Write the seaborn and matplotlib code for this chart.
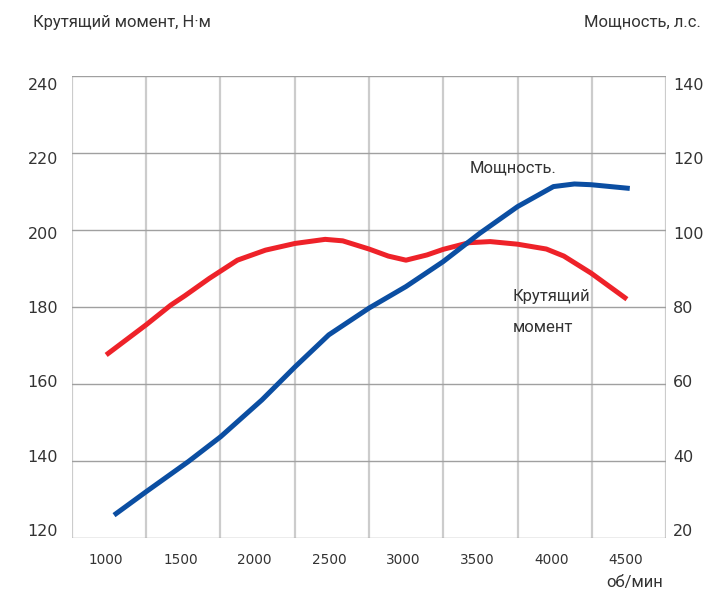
import matplotlib
matplotlib.use("Agg")
import matplotlib.pyplot as plt
import seaborn as sns
import pandas as pd
import numpy as np

# ---- data ----
torque_rpm = [1000, 1269, 1435, 1529, 1695, 1884, 2073, 2272, 2475, 2593, 2770, 2900,
              3019, 3160, 3269, 3444, 3586, 3770, 3964, 4082, 4266, 4507]
torque_nm = [167.1, 175.2, 180.5, 183.0, 187.7, 192.6, 195.3, 197.1, 198.2, 197.8, 195.6, 193.7,
             192.6, 194.0, 195.5, 197.3, 197.6, 196.9, 195.6, 193.7, 189.1, 182.1]
power_rpm = [1053, 1269, 1553, 1771, 2049, 2272, 2499, 2770, 3019, 3269, 3515,
             3770, 4012, 4153, 4266, 4526]
power_hp = [24.0, 30.3, 38.4, 45.1, 55.0, 63.9, 72.5, 79.7, 85.5, 92.2, 99.8,
            107.0, 112.4, 113.1, 112.9, 111.9]
x_ticks = [1000, 1500, 2000, 2500, 3000, 3500, 4000, 4500]
left_ticks = [120, 140, 160, 180, 200, 220, 240]
right_ticks = [20, 40, 60, 80, 100, 120, 140]

RED = "#EE2229"
BLUE = "#0B4EA2"
TXT = "#333333"

sns.set_theme(style="white")
plt.rcParams["font.family"] = ["Roboto", "DejaVu Sans"]

fig = plt.figure(figsize=(7.06, 5.90), dpi=100)
ax = fig.add_axes([72/706, 1-538/590, (666-72)/706, (538-76)/590])
ax2 = ax.twinx()

xlim = (770, 4770)
ylim = (117.85, 242.15)
ax.set_xlim(*xlim)
ax.set_ylim(*ylim)
ax2.set_ylim(ylim[0]-100, ylim[1]-100)

# grid
for xv in np.arange(xlim[0], xlim[1]+1, 500):
    ax.axvline(xv, color="#CCCCCC", lw=1.6, zorder=0)
for yv in np.linspace(ylim[0], ylim[1], 7):
    ax.axhline(yv, color="#A0A0A0", lw=1.0, zorder=0)

for a in (ax, ax2):
    for s in a.spines.values():
        s.set_visible(False)

df_t = pd.DataFrame({"rpm": torque_rpm, "val": torque_nm})
df_p = pd.DataFrame({"rpm": power_rpm, "val": power_hp})
sns.lineplot(data=df_t, x="rpm", y="val", ax=ax, color=RED, lw=3.6,
             solid_capstyle="butt", solid_joinstyle="round", zorder=3)
sns.lineplot(data=df_p, x="rpm", y="val", ax=ax2, color=BLUE, lw=3.6,
             solid_capstyle="butt", solid_joinstyle="round", zorder=3)

num_font = "DejaVu Sans"
ax.set_xticks(x_ticks)
ax.set_xticklabels([str(v) for v in x_ticks], fontsize=9.8, color=TXT, family=num_font)
ax.set_yticks(left_ticks)
ax.set_yticklabels([str(v) for v in left_ticks], fontsize=11.5, color=TXT, family=num_font)
ax2.set_yticks(right_ticks)
ax2.set_yticklabels([str(v) for v in right_ticks], fontsize=11.5, color=TXT, family=num_font)
ax.tick_params(axis="x", length=0, pad=11)
ax.tick_params(axis="y", length=0, pad=10)
ax2.tick_params(axis="y", length=0, pad=5)
ax.set_xlabel("")
ax.set_ylabel("")
ax2.set_ylabel("")

fs = 12
fig.text(33/706, 1-22/590, "Крутящий момент, Н·м", fontsize=fs, color=TXT, ha="left", va="center")
fig.text(701/706, 1-22/590, "Мощность, л.с.", fontsize=fs, color=TXT, ha="right", va="center")
fig.text(635/706, 1-582/590, "об/мин", fontsize=fs, color=TXT, ha="center", va="center")
fig.text(470/706, 1-168/590, "Мощность.", fontsize=fs, color=TXT, ha="left", va="center")
fig.text(513/706, 1-296/590, "Крутящий", fontsize=fs, color=TXT, ha="left", va="center")
fig.text(513/706, 1-328/590, "момент", fontsize=fs, color=TXT, ha="left", va="center")

fig.savefig("out.png", dpi=100, facecolor="white")
